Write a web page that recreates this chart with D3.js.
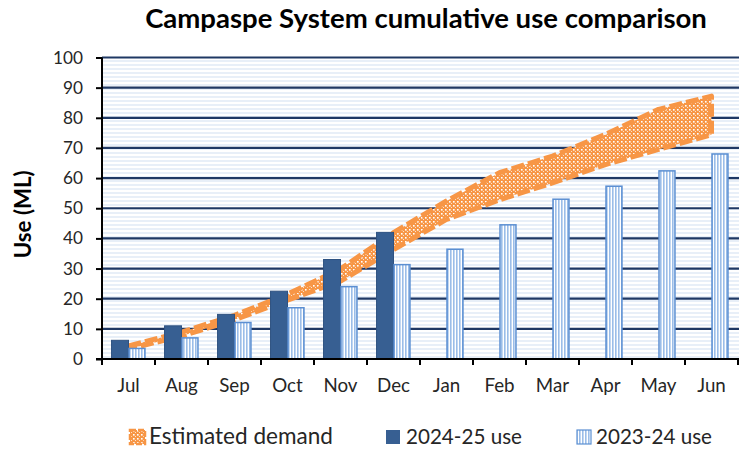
<!DOCTYPE html>
<html>
<head>
<meta charset="utf-8">
<script src="https://cdn.jsdelivr.net/npm/d3@7"></script>
<style>
  body { margin: 0; background: #fff; }
  text { font-family: Lato, "Open Sans", sans-serif; fill: #262626; }
</style>
</head>
<body>
<div id="chart"></div>
<script>
const months = ['Jul', 'Aug', 'Sep', 'Oct', 'Nov', 'Dec', 'Jan', 'Feb', 'Mar', 'Apr', 'May', 'Jun']
const use2024 = [6.2, 11, 14.8, 22.5, 33, 42]
const use2023 = [3.5, 7, 12.1, 17, 24, 31.3, 36.4, 44.5, 53, 57.3, 62.4, 68]
const demandLow = [3.3, 7.6, 13, 19.5, 25.8, 36.3, 46.3, 52.8, 58.4, 64.5, 69.5, 74.4]
const demandHigh = [4.3, 8.9, 14.5, 21.5, 29.9, 41.9, 52.4, 61.8, 67.3, 74.5, 82.8, 87.2]
const yTicks = d3.range(0, 101, 10)

const W = 739, H = 450
const ORANGE = '#f79646'
const DARK = '#375f92'
const GRID = '#1f3864'

const svg = d3.select('#chart').append('svg')
    .attr('width', W)
    .attr('height', H)

const x = d3.scaleBand().domain(months).range([102, 738])
const y = d3.scaleLinear().domain([0, 100]).range([359, 57.5])
const barW = x.bandwidth() * 0.32

// Fit a text element's font size to a target width
function fitText(sel, target) {
    const size = parseFloat(sel.style('font-size'))
    const len = sel.node().getComputedTextLength()
    const fitted = size * target / len
    sel.style('font-size', fitted + 'px')
    return fitted
}

// Patterns
const defs = svg.append('defs')

const bg = defs.append('pattern')
    .attr('id', 'bg-stripes')
    .attr('patternUnits', 'userSpaceOnUse')
    .attr('width', 8).attr('height', 4)
bg.append('rect').attr('width', 8).attr('height', 4).attr('fill', '#fff')
bg.append('rect').attr('width', 8).attr('height', 2).attr('fill', '#e8eff8')

const vs = defs.append('pattern')
    .attr('id', 'v-stripes')
    .attr('patternUnits', 'userSpaceOnUse')
    .attr('width', 3).attr('height', 6)
vs.append('rect').attr('width', 3).attr('height', 6).attr('fill', '#fff')
vs.append('rect').attr('width', 1.6).attr('height', 6).attr('fill', '#9bbde8')

const mesh = defs.append('pattern')
    .attr('id', 'mesh')
    .attr('patternUnits', 'userSpaceOnUse')
    .attr('width', 4).attr('height', 4)
mesh.append('rect').attr('width', 4).attr('height', 4).attr('fill', ORANGE)
mesh.append('rect').attr('x', 1).attr('y', 1).attr('width', 1.6).attr('height', 1.6).attr('fill', '#fff')
mesh.append('rect').attr('x', 3).attr('y', 3).attr('width', 1).attr('height', 1).attr('fill', '#fde3cc')

// Plot background
svg.append('rect')
    .attr('x', x.range()[0]).attr('y', y(100))
    .attr('width', W - x.range()[0]).attr('height', y(0) - y(100))
    .attr('fill', 'url(#bg-stripes)')

// Major gridlines
svg.append('g')
    .selectAll('line')
    .data(yTicks.filter(d => d > 0))
    .enter()
    .append('line')
    .attr('x1', x.range()[0]).attr('x2', W)
    .attr('y1', d => y(d)).attr('y2', d => y(d))
    .attr('stroke', GRID)
    .attr('stroke-width', 2.2)

// Estimated demand band
const cx = m => x(m) + x.bandwidth() / 2
const band = d3.area()
    .x((d, i) => cx(months[i]))
    .y0((d, i) => y(demandLow[i]))
    .y1((d, i) => y(demandHigh[i]))

svg.append('path')
    .attr('d', band(months) + 'Z')
    .attr('fill', 'url(#mesh)')
    .attr('stroke', ORANGE)
    .attr('stroke-width', 5)
    .attr('stroke-dasharray', '13,4')
    .attr('stroke-linejoin', 'round')

// Bars
svg.append('g')
    .selectAll('rect')
    .data(use2024)
    .enter()
    .append('rect')
    .attr('x', (d, i) => cx(months[i]) - barW)
    .attr('y', d => y(d))
    .attr('width', barW)
    .attr('height', d => y(0) - y(d))
    .attr('fill', DARK)
    .attr('stroke', '#2f5281')
    .attr('stroke-width', 1)

svg.append('g')
    .selectAll('rect')
    .data(use2023)
    .enter()
    .append('rect')
    .attr('x', (d, i) => cx(months[i]) + 0.5)
    .attr('y', d => y(d))
    .attr('width', barW - 1)
    .attr('height', d => y(0) - y(d))
    .attr('fill', 'url(#v-stripes)')
    .attr('stroke', '#5b8fd2')
    .attr('stroke-width', 1.5)

// Axes
const yAxis = svg.append('g')
    .attr('transform', `translate(${x.range()[0]},0)`)
    .call(d3.axisLeft(y).tickValues(yTicks).tickSize(6).tickPadding(13))
const xAxis = svg.append('g')
    .attr('transform', `translate(0,${y(0)})`)
    .call(d3.axisBottom(x).tickSize(0).tickPadding(20))

xAxis.selectAll('.tick')
    .append('line')
    .attr('x1', -x.bandwidth() / 2).attr('x2', -x.bandwidth() / 2)
    .attr('y1', 0).attr('y2', 6)
    .attr('stroke', '#000').attr('stroke-width', 2)
xAxis.append('line')
    .attr('x1', x.range()[1]).attr('x2', x.range()[1])
    .attr('y1', 0).attr('y2', 6)
    .attr('stroke', '#000').attr('stroke-width', 2)

svg.selectAll('.domain').attr('stroke', '#000').attr('stroke-width', 2)
yAxis.selectAll('.tick line').attr('stroke', '#000').attr('stroke-width', 2)
xAxis.select('.domain').attr('d', `M${x.range()[0] - 6},0H${W}`)
yAxis.select('.domain').attr('d', `M0,${y(100)}V${y(0) + 6}`)

// Tick label sizes: "100" spans about 30px, "Dec" about 33px in the reference
svg.selectAll('.tick text')
    .style('font-family', 'Lato, sans-serif')
    .style('font-size', '18px')
    .attr('fill', '#262626')
const ySize = fitText(yAxis.selectAll('.tick text').filter(d => d === 100), 30)
yAxis.selectAll('.tick text').style('font-size', ySize + 'px')
const xSize = fitText(xAxis.selectAll('.tick text').filter(d => d === 'Dec'), 33)
xAxis.selectAll('.tick text').style('font-size', xSize + 'px')

// Title
const title = svg.append('text')
    .attr('x', 426).attr('y', 28)
    .attr('text-anchor', 'middle')
    .style('font-size', '22px')
    .style('font-weight', 'bold')
    .style('fill', '#000')
    .text('Campaspe System cumulative use comparison')
fitText(title, 562)

// Y axis title
const yTitle = svg.append('text')
    .attr('transform', `translate(31,${(y(0) + y(100)) / 2 + 6}) rotate(-90)`)
    .attr('text-anchor', 'middle')
    .style('font-size', '18px')
    .style('font-weight', 'bold')
    .style('fill', '#000')
    .text('Use (ML)')
fitText(yTitle, 88)

// Legend
const legend = svg.append('g').attr('transform', 'translate(0,437)')
legend.append('rect')
    .attr('x', 130).attr('y', -7).attr('width', 15).attr('height', 14)
    .attr('fill', 'url(#mesh)')
    .attr('stroke', ORANGE).attr('stroke-width', 2.5)
    .attr('stroke-dasharray', '6,2')
legend.append('rect')
    .attr('x', 386).attr('y', -7).attr('width', 14).attr('height', 14)
    .attr('fill', DARK)
legend.append('rect')
    .attr('x', 577).attr('y', -7).attr('width', 14).attr('height', 14)
    .attr('fill', 'url(#v-stripes)')
    .attr('stroke', '#5b8fd2').attr('stroke-width', 1.2)

const legendItems = [
    { label: 'Estimated demand', x: 149, w: 184 },
    { label: '2024-25 use', x: 406, w: 116 },
    { label: '2023-24 use', x: 596, w: 116 }
]
legendItems.forEach(d => {
    const t = legend.append('text')
        .attr('x', d.x).attr('y', 6.5)
        .style('font-size', '18px')
        .text(d.label)
    fitText(t, d.w)
})
</script>
</body>
</html>
